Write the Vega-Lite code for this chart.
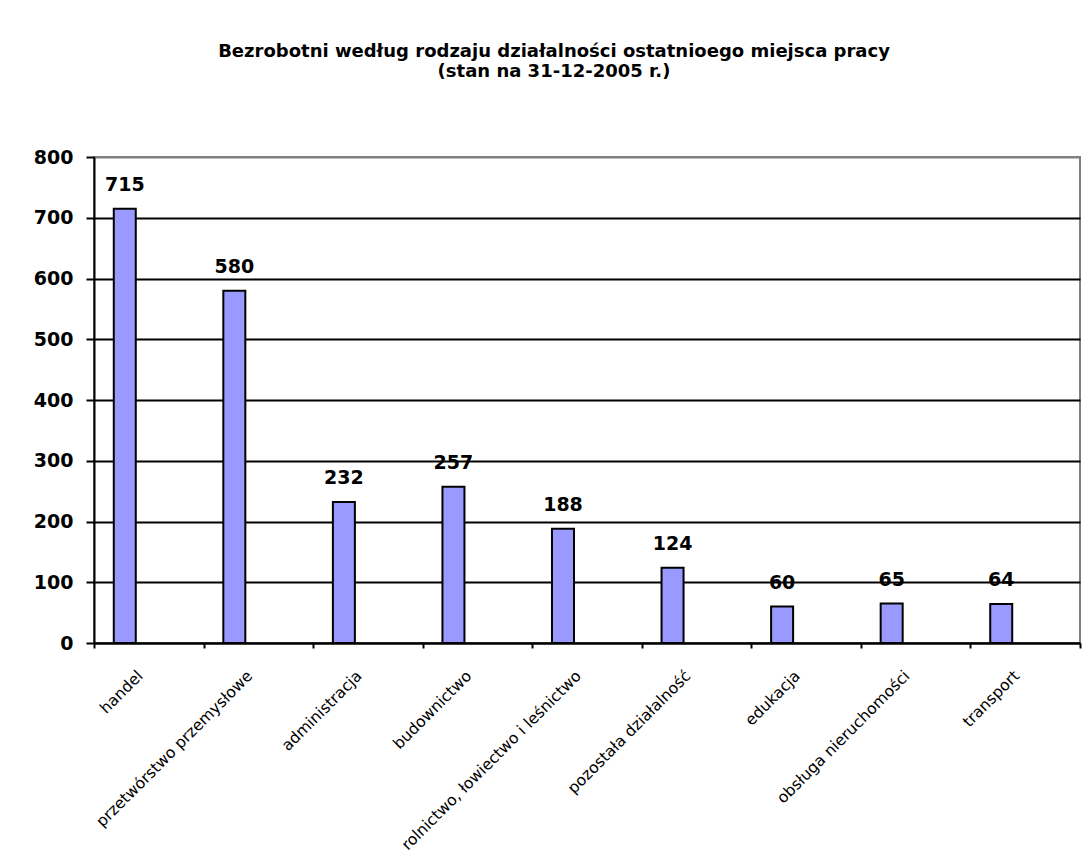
{
  "$schema": "https://vega.github.io/schema/vega-lite/v6.json",
  "width": 986,
  "height": 486,
  "autosize": {"type": "none"},
  "padding": {"left": 94, "top": 157, "right": 8, "bottom": 224},
  "background": "white",
  "title": {
    "text": ["Bezrobotni według rodzaju działalności ostatnioego miejsca pracy", "(stan na 31-12-2005 r.)"],
    "font": "DejaVu Sans",
    "fontSize": 18,
    "fontWeight": "bold",
    "color": "black",
    "lineHeight": 20,
    "anchor": "middle",
    "frame": "group",
    "dx": -33,
    "offset": 67
  },
  "data": {
    "values": [
      {"kategoria": "handel", "liczba": 715},
      {"kategoria": "przetwórstwo przemysłowe", "liczba": 580},
      {"kategoria": "administracja", "liczba": 232},
      {"kategoria": "budownictwo", "liczba": 257},
      {"kategoria": "rolnictwo, łowiectwo i leśnictwo", "liczba": 188},
      {"kategoria": "pozostała działalność", "liczba": 124},
      {"kategoria": "edukacja", "liczba": 60},
      {"kategoria": "obsługa nieruchomości", "liczba": 65},
      {"kategoria": "transport", "liczba": 64}
    ]
  },
  "encoding": {
    "x": {
      "field": "kategoria",
      "type": "nominal",
      "sort": null,
      "scale": {"paddingInner": 0, "paddingOuter": 0},
      "axis": {
        "title": null,
        "labelAngle": -45,
        "labelFont": "DejaVu Sans",
        "labelFontSize": 15.6,
        "labelColor": "black",
        "labelPadding": 20,
        "labelOffset": -14,
        "labelLimit": 400,
        "tickBand": "extent",
        "tickSize": 5,
        "tickWidth": 2,
        "tickColor": "black",
        "domainColor": "black",
        "domainWidth": 2,
        "grid": false
      }
    },
    "y": {
      "field": "liczba",
      "type": "quantitative",
      "scale": {"domain": [0, 800], "nice": false},
      "axis": {
        "title": null,
        "values": [0, 100, 200, 300, 400, 500, 600, 700, 800],
        "labelFont": "DejaVu Sans",
        "labelFontSize": 19,
        "labelFontWeight": "bold",
        "labelColor": "black",
        "labelPadding": 13,
        "tickSize": 8,
        "tickWidth": 2,
        "tickColor": "black",
        "domainColor": "black",
        "domainWidth": 2,
        "grid": true,
        "gridWidth": 2,
        "gridColor": {"condition": {"test": "datum.value === 800", "value": "#808080"}, "value": "black"}
      }
    }
  },
  "layer": [
    {
      "mark": {"type": "bar", "width": 22, "xOffset": -24, "fill": "#9999FF", "stroke": "black", "strokeWidth": 2}
    },
    {
      "mark": {"type": "text", "font": "DejaVu Sans", "fontSize": 19, "fontWeight": "bold", "color": "black", "baseline": "alphabetic", "dy": -18, "dx": -24},
      "encoding": {"text": {"field": "liczba", "type": "quantitative"}}
    }
  ],
  "config": {
    "view": {"stroke": "#808080", "strokeWidth": 2}
  }
}
